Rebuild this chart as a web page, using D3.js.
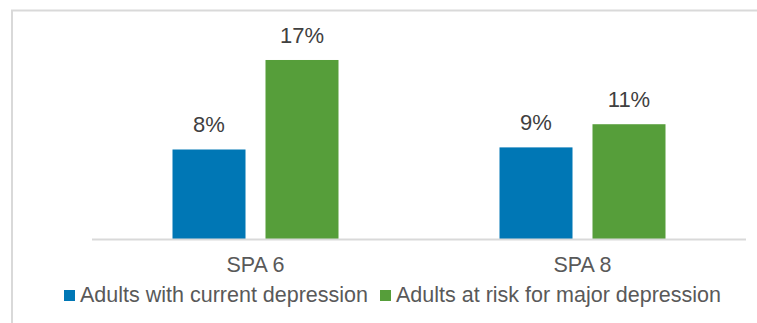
<!DOCTYPE html>
<html>
<head>
<meta charset="utf-8">
<script src="https://cdn.jsdelivr.net/npm/d3@7"></script>
<style>
  html, body { margin: 0; padding: 0; background: #fff; }
  svg { display: block; font-family: "Liberation Sans", Arial, sans-serif; }
</style>
</head>
<body>
<svg width="757" height="323"></svg>
<script>
const categories = ['SPA 6', 'SPA 8'];
const seriesNames = ['Adults with current depression', 'Adults at risk for major depression'];
const currentDepression = [8.5, 8.7];
const atRiskDepression = [17.0, 10.9];
const currentLabels = ['8%', '9%'];
const atRiskLabels = ['17%', '11%'];
const colors = ['#0077b5', '#569e3a'];

const svg = d3.select('svg');
const width = +svg.attr('width');
const height = +svg.attr('height');

// chart frame
svg.append('rect')
  .attr('x', 12)
  .attr('y', 10.5)
  .attr('width', width + 10)
  .attr('height', height + 10)
  .attr('fill', 'none')
  .attr('stroke', '#d9d9d9')
  .attr('stroke-width', 2);

const plot = { left: 92, right: 746, bottom: 239 };

const data = categories.map((c, i) => ({
  cat: c,
  values: [currentDepression[i], atRiskDepression[i]],
  labels: [currentLabels[i], atRiskLabels[i]]
}));

const x = d3.scaleBand()
  .domain(categories)
  .range([plot.left, plot.right])
  .paddingInner(0)
  .paddingOuter(0);

const x1 = d3.scaleBand()
  .domain([0, 1])
  .range([x.bandwidth() / 2 - 83, x.bandwidth() / 2 + 83])
  .paddingInner(0.215);

const y = d3.scaleLinear()
  .domain([0, 20])
  .range([plot.bottom, plot.bottom - 210.6]);

const groups = svg.append('g')
  .selectAll('g')
  .data(data)
  .enter()
  .append('g')
    .attr('transform', d => `translate(${x(d.cat)},0)`);

const bars = d => d.values.map((v, k) => ({ v, k, label: d.labels[k] }));

groups.selectAll('rect')
  .data(bars)
  .enter()
  .append('rect')
    .attr('x', d => x1(d.k))
    .attr('y', d => y(d.v))
    .attr('width', x1.bandwidth())
    .attr('height', d => y(0) - y(d.v))
    .attr('fill', d => colors[d.k]);

groups.selectAll('text.val')
  .data(bars)
  .enter()
  .append('text')
    .attr('class', 'val')
    .attr('x', d => x1(d.k) + x1.bandwidth() / 2)
    .attr('y', d => y(d.v) - 17)
    .attr('text-anchor', 'middle')
    .attr('font-size', 22)
    .attr('fill', '#404040')
    .text(d => d.label);

// baseline
svg.append('line')
  .attr('x1', plot.left)
  .attr('x2', plot.right)
  .attr('y1', plot.bottom + 0.5)
  .attr('y2', plot.bottom + 0.5)
  .attr('stroke', '#d9d9d9')
  .attr('stroke-width', 2);

// category labels
svg.append('g')
  .selectAll('text')
  .data(categories)
  .enter()
  .append('text')
    .attr('x', d => x(d) + x.bandwidth() / 2)
    .attr('y', 272)
    .attr('text-anchor', 'middle')
    .attr('font-size', 21.5)
    .attr('fill', '#595959')
    .text(d => d);

// legend
const legendX = [64, 380];
const legend = svg.append('g')
  .selectAll('g')
  .data(seriesNames)
  .enter()
  .append('g')
    .attr('transform', (d, i) => `translate(${legendX[i]},290)`);

legend.append('rect')
  .attr('width', 11)
  .attr('height', 11)
  .attr('fill', (d, i) => colors[i]);

legend.append('text')
  .attr('x', 16)
  .attr('y', 11.5)
  .attr('font-size', 21.5)
  .attr('fill', '#595959')
  .text(d => d);
</script>
</body>
</html>
